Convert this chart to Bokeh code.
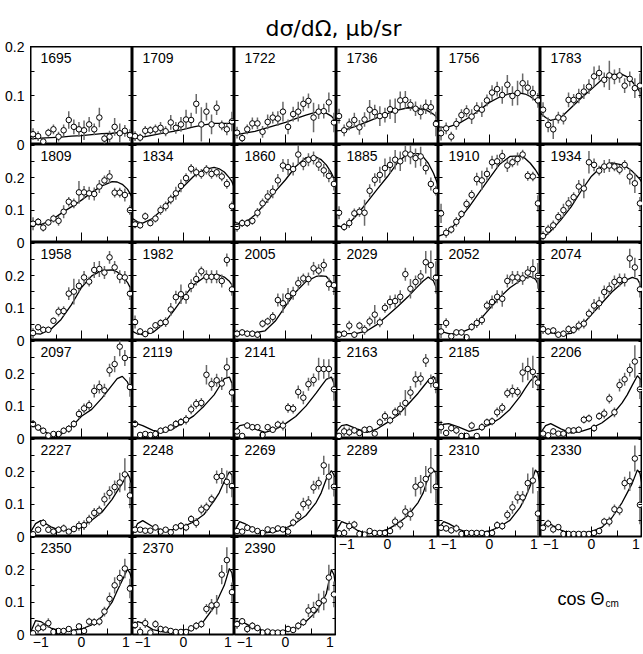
from bokeh.plotting import figure
from bokeh.models import Range1d, FixedTicker, LinearAxis, Label, ColumnDataSource
from bokeh.layouts import row, column
from bokeh.embed import file_html
from bokeh.resources import INLINE
from bokeh.core.properties import value

# ---------------- data ----------------
COS_BINS = [-0.95, -0.85, -0.75, -0.65, -0.55, -0.45, -0.35, -0.25, -0.15, -0.05,
            0.05, 0.15, 0.25, 0.35, 0.45, 0.55, 0.65, 0.75, 0.85, 0.95]
CURVE_X = [-1.0, -0.9, -0.8, -0.6, -0.4, -0.2, 0.0, 0.2, 0.4, 0.6, 0.7, 0.8, 0.9, 0.95, 1.0]

ENERGIES = ["1695", "1709", "1722", "1736", "1756", "1783",
            "1809", "1834", "1860", "1885", "1910", "1934",
            "1958", "1982", "2005", "2029", "2052", "2074",
            "2097", "2119", "2141", "2163", "2185", "2206",
            "2227", "2248", "2269", "2289", "2310", "2330",
            "2350", "2370", "2390"]

Y_1695 = [0.021, 0.017, 0.006, 0.024, 0.031, 0.016, 0.029, 0.050, 0.036, 0.031, 0.029, 0.041, 0.031, 0.055, 0.012, 0.016, 0.036, 0.023, 0.028, 0.019]
E_1695 = [0.012, 0.010, 0.005, 0.008, 0.010, 0.010, 0.012, 0.018, 0.015, 0.015, 0.020, 0.015, 0.012, 0.020, 0.010, 0.012, 0.018, 0.020, 0.012, 0.012]
F_1695 = [0.012, 0.012, 0.013, 0.014, 0.015, 0.017, 0.018, 0.020, 0.022, 0.023, 0.024, 0.024, 0.024, 0.024, 0.024]

Y_1709 = [0.017, 0.014, 0.028, 0.029, 0.031, 0.034, 0.027, 0.045, 0.034, 0.041, 0.051, 0.050, 0.083, 0.041, 0.067, 0.041, 0.075, 0.039, 0.031, 0.047]
E_1709 = [0.010, 0.008, 0.010, 0.008, 0.010, 0.012, 0.010, 0.015, 0.012, 0.015, 0.020, 0.015, 0.020, 0.035, 0.018, 0.020, 0.015, 0.010, 0.012, 0.020]
F_1709 = [0.012, 0.013, 0.015, 0.019, 0.023, 0.027, 0.031, 0.036, 0.040, 0.043, 0.043, 0.043, 0.043, 0.042, 0.042]

Y_1722 = [0.024, 0.013, 0.031, 0.043, 0.043, 0.026, 0.046, 0.055, 0.053, 0.067, 0.036, 0.062, 0.067, 0.083, 0.089, 0.055, 0.067, 0.068, 0.086, 0.045]
E_1722 = [0.012, 0.008, 0.010, 0.012, 0.012, 0.012, 0.015, 0.012, 0.015, 0.020, 0.015, 0.015, 0.020, 0.015, 0.015, 0.030, 0.015, 0.015, 0.020, 0.020]
F_1722 = [0.020, 0.021, 0.023, 0.027, 0.033, 0.039, 0.045, 0.053, 0.060, 0.066, 0.066, 0.064, 0.058, 0.052, 0.045]

Y_1736 = [0.058, 0.029, 0.041, 0.050, 0.035, 0.051, 0.071, 0.066, 0.058, 0.060, 0.072, 0.069, 0.090, 0.091, 0.081, 0.073, 0.066, 0.077, 0.076, 0.042]
E_1736 = [0.015, 0.012, 0.012, 0.015, 0.015, 0.015, 0.020, 0.015, 0.020, 0.015, 0.020, 0.025, 0.018, 0.018, 0.012, 0.015, 0.015, 0.015, 0.015, 0.025]
F_1736 = [0.028, 0.029, 0.031, 0.038, 0.046, 0.055, 0.063, 0.070, 0.075, 0.074, 0.072, 0.068, 0.062, 0.057, 0.050]

Y_1756 = [0.023, 0.033, 0.016, 0.042, 0.060, 0.068, 0.057, 0.074, 0.071, 0.090, 0.106, 0.113, 0.101, 0.122, 0.099, 0.105, 0.125, 0.116, 0.105, 0.090]
E_1756 = [0.015, 0.012, 0.010, 0.012, 0.012, 0.012, 0.015, 0.012, 0.015, 0.012, 0.015, 0.015, 0.018, 0.020, 0.020, 0.025, 0.020, 0.015, 0.015, 0.015]
F_1756 = [0.036, 0.035, 0.036, 0.043, 0.055, 0.070, 0.086, 0.097, 0.104, 0.105, 0.103, 0.098, 0.090, 0.083, 0.071]

Y_1783 = [0.071, 0.040, 0.031, 0.055, 0.053, 0.091, 0.091, 0.099, 0.108, 0.118, 0.139, 0.146, 0.132, 0.141, 0.138, 0.141, 0.120, 0.134, 0.115, 0.120]
E_1783 = [0.015, 0.015, 0.020, 0.012, 0.012, 0.015, 0.012, 0.015, 0.015, 0.015, 0.020, 0.015, 0.015, 0.030, 0.015, 0.015, 0.015, 0.015, 0.020, 0.025]
F_1783 = [0.064, 0.055, 0.049, 0.055, 0.075, 0.095, 0.113, 0.132, 0.143, 0.143, 0.138, 0.128, 0.115, 0.107, 0.098]

Y_1809 = [0.058, 0.064, 0.046, 0.062, 0.074, 0.067, 0.095, 0.126, 0.121, 0.155, 0.155, 0.152, 0.150, 0.173, 0.192, 0.204, 0.154, 0.154, 0.147, 0.100]
E_1809 = [0.020, 0.012, 0.012, 0.010, 0.012, 0.015, 0.020, 0.015, 0.015, 0.035, 0.020, 0.020, 0.020, 0.020, 0.015, 0.020, 0.015, 0.015, 0.020, 0.015]
F_1809 = [0.063, 0.057, 0.055, 0.068, 0.090, 0.110, 0.131, 0.155, 0.175, 0.188, 0.187, 0.180, 0.165, 0.152, 0.136]

Y_1834 = [0.056, 0.053, 0.081, 0.060, 0.074, 0.100, 0.112, 0.133, 0.152, 0.175, 0.199, 0.228, 0.217, 0.212, 0.225, 0.212, 0.217, 0.204, 0.181, 0.112]
E_1834 = [0.012, 0.010, 0.012, 0.010, 0.012, 0.015, 0.015, 0.015, 0.020, 0.020, 0.015, 0.015, 0.015, 0.015, 0.015, 0.015, 0.015, 0.015, 0.015, 0.015]
F_1834 = [0.074, 0.064, 0.060, 0.075, 0.105, 0.140, 0.173, 0.205, 0.225, 0.232, 0.228, 0.218, 0.200, 0.188, 0.168]

Y_1860 = [0.048, 0.060, 0.060, 0.067, 0.092, 0.121, 0.142, 0.157, 0.192, 0.238, 0.233, 0.227, 0.272, 0.243, 0.256, 0.261, 0.241, 0.223, 0.206, 0.181]
E_1860 = [0.015, 0.012, 0.012, 0.012, 0.015, 0.015, 0.020, 0.020, 0.020, 0.020, 0.025, 0.020, 0.030, 0.020, 0.020, 0.020, 0.020, 0.020, 0.020, 0.020]
F_1860 = [0.064, 0.058, 0.060, 0.085, 0.120, 0.158, 0.194, 0.235, 0.262, 0.264, 0.256, 0.240, 0.215, 0.198, 0.173]

Y_1885 = [0.092, 0.048, 0.060, 0.090, 0.095, 0.092, 0.160, 0.194, 0.209, 0.230, 0.240, 0.256, 0.251, 0.275, 0.272, 0.261, 0.266, 0.230, 0.181, 0.160]
E_1885 = [0.020, 0.012, 0.015, 0.015, 0.015, 0.040, 0.020, 0.020, 0.025, 0.030, 0.025, 0.030, 0.030, 0.025, 0.030, 0.030, 0.030, 0.020, 0.020, 0.015]
F_1885 = [0.053, 0.048, 0.052, 0.085, 0.125, 0.165, 0.204, 0.248, 0.275, 0.275, 0.265, 0.245, 0.215, 0.195, 0.173]

Y_1910 = [0.090, 0.030, 0.040, 0.064, 0.088, 0.119, 0.147, 0.196, 0.192, 0.212, 0.248, 0.251, 0.267, 0.238, 0.248, 0.258, 0.272, 0.206, 0.204, 0.121]
E_1910 = [0.030, 0.015, 0.012, 0.015, 0.012, 0.015, 0.015, 0.020, 0.030, 0.020, 0.020, 0.020, 0.020, 0.020, 0.015, 0.020, 0.015, 0.015, 0.015, 0.025]
F_1910 = [0.020, 0.025, 0.035, 0.070, 0.110, 0.155, 0.199, 0.242, 0.266, 0.268, 0.260, 0.245, 0.225, 0.212, 0.200]

Y_1934 = [0.020, 0.040, 0.053, 0.079, 0.100, 0.121, 0.140, 0.173, 0.167, 0.248, 0.240, 0.222, 0.235, 0.238, 0.235, 0.225, 0.240, 0.204, 0.183, 0.121]
E_1934 = [0.015, 0.015, 0.015, 0.015, 0.020, 0.020, 0.015, 0.020, 0.030, 0.035, 0.020, 0.015, 0.020, 0.020, 0.015, 0.015, 0.015, 0.025, 0.030, 0.020]
F_1934 = [0.015, 0.022, 0.035, 0.070, 0.110, 0.160, 0.205, 0.235, 0.246, 0.240, 0.232, 0.220, 0.204, 0.195, 0.183]

Y_1958 = [0.023, 0.041, 0.033, 0.033, 0.061, 0.089, 0.091, 0.145, 0.151, 0.169, 0.195, 0.182, 0.218, 0.221, 0.210, 0.257, 0.226, 0.197, 0.195, 0.145]
E_1958 = [0.015, 0.010, 0.010, 0.010, 0.010, 0.015, 0.015, 0.020, 0.040, 0.020, 0.020, 0.015, 0.025, 0.025, 0.020, 0.020, 0.020, 0.020, 0.020, 0.020]
F_1958 = [0.026, 0.021, 0.020, 0.035, 0.065, 0.110, 0.164, 0.200, 0.217, 0.218, 0.212, 0.200, 0.180, 0.165, 0.143]

Y_1982 = [0.057, 0.028, 0.020, 0.030, 0.047, 0.054, 0.057, 0.096, 0.134, 0.143, 0.134, 0.169, 0.190, 0.214, 0.197, 0.197, 0.197, 0.184, 0.249, 0.158]
E_1982 = [0.020, 0.010, 0.010, 0.010, 0.010, 0.012, 0.015, 0.020, 0.020, 0.030, 0.020, 0.020, 0.020, 0.015, 0.020, 0.020, 0.020, 0.020, 0.020, 0.020]
F_1982 = [0.028, 0.020, 0.018, 0.025, 0.050, 0.090, 0.134, 0.172, 0.195, 0.203, 0.202, 0.196, 0.183, 0.172, 0.153]

Y_2005 = [0.021, 0.025, 0.021, 0.021, 0.018, 0.052, 0.059, 0.073, 0.125, 0.115, 0.137, 0.146, 0.177, 0.192, 0.190, 0.223, 0.216, 0.233, 0.174, 0.171]
E_2005 = [0.012, 0.010, 0.010, 0.010, 0.012, 0.012, 0.012, 0.015, 0.020, 0.030, 0.025, 0.020, 0.020, 0.015, 0.020, 0.020, 0.020, 0.020, 0.020, 0.030]
F_2005 = [0.025, 0.025, 0.025, 0.024, 0.030, 0.060, 0.106, 0.150, 0.182, 0.198, 0.200, 0.198, 0.180, 0.165, 0.143]

Y_2029 = [0.018, 0.021, 0.046, 0.018, 0.046, 0.033, 0.059, 0.080, 0.056, 0.101, 0.119, 0.122, 0.135, 0.205, 0.160, 0.181, 0.198, 0.242, 0.233, 0.195]
E_2029 = [0.012, 0.010, 0.015, 0.010, 0.012, 0.015, 0.015, 0.030, 0.015, 0.015, 0.020, 0.020, 0.020, 0.020, 0.030, 0.020, 0.020, 0.035, 0.045, 0.050]
F_2029 = [0.028, 0.024, 0.021, 0.022, 0.030, 0.050, 0.077, 0.105, 0.135, 0.168, 0.184, 0.196, 0.185, 0.165, 0.130]

Y_2052 = [0.028, 0.054, 0.013, 0.025, 0.025, 0.010, 0.042, 0.054, 0.063, 0.108, 0.119, 0.135, 0.129, 0.184, 0.195, 0.195, 0.192, 0.210, 0.221, 0.200]
E_2052 = [0.020, 0.015, 0.010, 0.010, 0.010, 0.010, 0.012, 0.015, 0.015, 0.015, 0.020, 0.020, 0.025, 0.020, 0.020, 0.020, 0.020, 0.020, 0.030, 0.040]
F_2052 = [0.033, 0.026, 0.021, 0.022, 0.035, 0.062, 0.098, 0.133, 0.163, 0.185, 0.193, 0.198, 0.190, 0.175, 0.132]

Y_2074 = [0.035, 0.028, 0.031, 0.018, 0.021, 0.035, 0.033, 0.046, 0.052, 0.083, 0.108, 0.115, 0.150, 0.160, 0.181, 0.187, 0.187, 0.254, 0.226, 0.158]
E_2074 = [0.015, 0.010, 0.010, 0.010, 0.010, 0.012, 0.012, 0.015, 0.015, 0.015, 0.020, 0.020, 0.020, 0.020, 0.020, 0.020, 0.020, 0.030, 0.030, 0.025]
F_2074 = [0.039, 0.030, 0.024, 0.018, 0.022, 0.045, 0.080, 0.115, 0.150, 0.178, 0.188, 0.195, 0.190, 0.175, 0.132]

Y_2097 = [0.045, 0.034, 0.024, 0.009, 0.014, 0.014, 0.024, 0.030, 0.045, 0.076, 0.093, 0.103, 0.147, 0.159, 0.149, 0.211, 0.230, 0.284, 0.249, 0.159]
E_2097 = [0.012, 0.010, 0.010, 0.008, 0.008, 0.008, 0.010, 0.012, 0.012, 0.015, 0.015, 0.015, 0.020, 0.020, 0.020, 0.020, 0.025, 0.030, 0.025, 0.030]
F_2097 = [0.048, 0.035, 0.025, 0.013, 0.013, 0.035, 0.069, 0.090, 0.125, 0.165, 0.185, 0.192, 0.175, 0.155, 0.140]

Y_2119 = [0.045, 0.011, 0.014, 0.011, 0.014, 0.024, 0.027, 0.034, 0.045, 0.051, 0.058, 0.090, 0.107, 0.110, 0.197, 0.168, 0.180, 0.170, 0.220, 0.142]
E_2119 = [0.012, 0.008, 0.008, 0.008, 0.008, 0.010, 0.010, 0.010, 0.012, 0.012, 0.015, 0.015, 0.015, 0.015, 0.030, 0.020, 0.020, 0.020, 0.030, 0.030]
F_2119 = [0.040, 0.045, 0.040, 0.025, 0.020, 0.030, 0.050, 0.070, 0.100, 0.135, 0.160, 0.185, 0.190, 0.170, 0.140]

Y_2141 = [0.022, 0.008, 0.040, 0.035, 0.035, 0.011, 0.035, 0.027, 0.043, 0.040, 0.095, 0.092, 0.144, 0.126, 0.168, 0.181, 0.215, 0.215, 0.215, 0.152]
E_2141 = [0.010, 0.008, 0.010, 0.010, 0.010, 0.008, 0.010, 0.010, 0.012, 0.015, 0.015, 0.015, 0.020, 0.020, 0.020, 0.020, 0.035, 0.030, 0.030, 0.035]
F_2141 = [0.022, 0.040, 0.043, 0.030, 0.019, 0.028, 0.046, 0.068, 0.100, 0.140, 0.162, 0.183, 0.190, 0.170, 0.126]

Y_2163 = [0.008, 0.022, 0.019, 0.025, 0.017, 0.027, 0.029, 0.015, 0.050, 0.069, 0.056, 0.081, 0.092, 0.110, 0.142, 0.183, 0.185, 0.241, 0.178, 0.165]
E_2163 = [0.010, 0.015, 0.015, 0.010, 0.008, 0.010, 0.010, 0.010, 0.012, 0.015, 0.012, 0.015, 0.020, 0.040, 0.020, 0.025, 0.020, 0.020, 0.020, 0.025]
F_2163 = [0.022, 0.040, 0.043, 0.030, 0.019, 0.030, 0.050, 0.072, 0.105, 0.140, 0.160, 0.180, 0.192, 0.180, 0.152]

Y_2185 = [0.035, 0.017, 0.032, 0.025, 0.008, 0.008, 0.040, 0.008, 0.035, 0.050, 0.053, 0.081, 0.095, 0.140, 0.147, 0.144, 0.204, 0.215, 0.206, 0.173]
E_2185 = [0.020, 0.010, 0.010, 0.012, 0.008, 0.008, 0.012, 0.008, 0.012, 0.012, 0.012, 0.015, 0.015, 0.015, 0.020, 0.015, 0.030, 0.035, 0.050, 0.025]
F_2185 = [0.032, 0.044, 0.046, 0.035, 0.022, 0.030, 0.043, 0.062, 0.090, 0.130, 0.155, 0.178, 0.194, 0.185, 0.147]

Y_2206 = [0.015, 0.010, 0.022, 0.015, 0.015, 0.025, 0.025, 0.027, 0.058, 0.062, 0.032, 0.069, 0.077, 0.123, 0.081, 0.165, 0.183, 0.212, 0.238, 0.152]
E_2206 = [0.010, 0.008, 0.010, 0.008, 0.008, 0.010, 0.010, 0.010, 0.012, 0.012, 0.012, 0.012, 0.015, 0.015, 0.015, 0.020, 0.020, 0.020, 0.050, 0.030]
F_2206 = [0.017, 0.040, 0.046, 0.030, 0.017, 0.022, 0.032, 0.048, 0.072, 0.110, 0.135, 0.165, 0.194, 0.185, 0.152]

Y_2227 = [0.007, 0.021, 0.042, 0.021, 0.015, 0.021, 0.025, 0.015, 0.023, 0.033, 0.035, 0.052, 0.073, 0.080, 0.115, 0.135, 0.153, 0.167, 0.192, 0.127]
E_2227 = [0.010, 0.010, 0.012, 0.010, 0.008, 0.010, 0.012, 0.008, 0.010, 0.015, 0.015, 0.015, 0.015, 0.015, 0.020, 0.020, 0.020, 0.030, 0.050, 0.040]
F_2227 = [0.013, 0.040, 0.049, 0.030, 0.018, 0.022, 0.033, 0.050, 0.075, 0.115, 0.140, 0.164, 0.195, 0.180, 0.127]

Y_2248 = [0.021, 0.021, 0.018, 0.018, 0.028, 0.015, 0.021, 0.013, 0.028, 0.033, 0.028, 0.054, 0.042, 0.083, 0.090, 0.115, 0.184, 0.187, 0.169, 0.156]
E_2248 = [0.010, 0.008, 0.008, 0.008, 0.010, 0.010, 0.008, 0.008, 0.010, 0.012, 0.012, 0.012, 0.015, 0.015, 0.015, 0.015, 0.020, 0.025, 0.035, 0.035]
F_2248 = [0.007, 0.040, 0.049, 0.030, 0.018, 0.022, 0.031, 0.045, 0.068, 0.110, 0.135, 0.170, 0.200, 0.190, 0.158]

Y_2269 = [0.017, 0.015, 0.027, 0.022, 0.017, 0.011, 0.022, 0.019, 0.025, 0.022, 0.015, 0.043, 0.064, 0.100, 0.105, 0.152, 0.165, 0.220, 0.185, 0.154]
E_2269 = [0.010, 0.010, 0.010, 0.010, 0.008, 0.008, 0.008, 0.008, 0.008, 0.010, 0.015, 0.012, 0.015, 0.020, 0.020, 0.020, 0.020, 0.030, 0.040, 0.030]
F_2269 = [0.017, 0.046, 0.040, 0.020, 0.011, 0.015, 0.025, 0.042, 0.065, 0.105, 0.135, 0.178, 0.204, 0.190, 0.152]

Y_2289 = [0.010, 0.011, 0.032, 0.037, 0.008, 0.006, 0.017, 0.011, 0.011, 0.011, 0.017, 0.046, 0.037, 0.077, 0.069, 0.154, 0.160, 0.178, 0.204, 0.154]
E_2289 = [0.010, 0.012, 0.015, 0.012, 0.008, 0.008, 0.008, 0.008, 0.008, 0.008, 0.010, 0.015, 0.015, 0.020, 0.020, 0.030, 0.030, 0.040, 0.070, 0.050]
F_2289 = [0.017, 0.046, 0.040, 0.020, 0.008, 0.012, 0.022, 0.040, 0.065, 0.105, 0.135, 0.183, 0.206, 0.195, 0.152]

Y_2310 = [0.027, 0.025, 0.019, 0.025, 0.008, 0.011, 0.011, 0.011, 0.011, 0.008, 0.011, 0.035, 0.032, 0.067, 0.090, 0.121, 0.121, 0.165, 0.173, 0.071]
E_2310 = [0.010, 0.010, 0.010, 0.012, 0.008, 0.008, 0.008, 0.008, 0.008, 0.008, 0.008, 0.012, 0.012, 0.015, 0.020, 0.020, 0.020, 0.030, 0.040, 0.070]
F_2310 = [0.025, 0.046, 0.040, 0.022, 0.011, 0.012, 0.017, 0.030, 0.050, 0.090, 0.120, 0.157, 0.206, 0.195, 0.152]

Y_2330 = [0.027, 0.040, 0.022, 0.029, 0.008, 0.008, 0.008, 0.008, 0.008, 0.008, 0.011, 0.017, 0.046, 0.046, 0.084, 0.081, 0.165, 0.171, 0.241, 0.098]
E_2330 = [0.010, 0.012, 0.012, 0.010, 0.008, 0.006, 0.006, 0.006, 0.006, 0.006, 0.008, 0.010, 0.012, 0.015, 0.015, 0.015, 0.020, 0.030, 0.040, 0.060]
F_2330 = [0.022, 0.043, 0.038, 0.020, 0.008, 0.010, 0.015, 0.028, 0.058, 0.105, 0.135, 0.165, 0.206, 0.195, 0.152]

Y_2350 = [0.004, 0.019, 0.022, 0.035, 0.008, 0.011, 0.011, 0.017, 0.006, 0.025, 0.011, 0.040, 0.038, 0.040, 0.071, 0.110, 0.152, 0.175, 0.204, 0.142]
E_2350 = [0.008, 0.015, 0.012, 0.015, 0.008, 0.008, 0.008, 0.008, 0.006, 0.010, 0.012, 0.012, 0.012, 0.012, 0.015, 0.020, 0.025, 0.025, 0.030, 0.030]
F_2350 = [0.006, 0.043, 0.040, 0.020, 0.011, 0.013, 0.017, 0.030, 0.055, 0.100, 0.135, 0.168, 0.202, 0.190, 0.163]

Y_2370 = [0.029, 0.008, 0.035, 0.006, 0.032, 0.017, 0.015, 0.011, 0.008, 0.008, 0.008, 0.019, 0.027, 0.032, 0.079, 0.090, 0.092, 0.185, 0.230, 0.131]
E_2370 = [0.012, 0.015, 0.015, 0.008, 0.012, 0.010, 0.010, 0.008, 0.008, 0.008, 0.008, 0.010, 0.012, 0.012, 0.015, 0.020, 0.030, 0.030, 0.040, 0.030]
F_2370 = [0.019, 0.040, 0.035, 0.015, 0.008, 0.007, 0.008, 0.020, 0.042, 0.085, 0.118, 0.152, 0.204, 0.190, 0.131]

Y_2390 = [0.032, 0.041, 0.017, 0.027, 0.020, 0.006, 0.009, 0.006, 0.006, 0.006, 0.017, 0.014, 0.027, 0.038, 0.074, 0.076, 0.097, 0.105, 0.176, 0.124]
E_2390 = [0.015, 0.010, 0.012, 0.012, 0.010, 0.008, 0.008, 0.006, 0.006, 0.008, 0.010, 0.010, 0.012, 0.012, 0.020, 0.025, 0.030, 0.030, 0.040, 0.040]
F_2390 = [0.027, 0.043, 0.035, 0.018, 0.011, 0.010, 0.011, 0.020, 0.040, 0.070, 0.095, 0.126, 0.201, 0.185, 0.131]

Y_TICKS_FIRST = [0.05, 0.1, 0.15]
Y_TICKS = [0.05, 0.1, 0.15, 0.2, 0.25, 0.3]
Y_LABEL_VALUES = [0.0, 0.1, 0.2]
Y_LABEL_TEXT = ["0", "0.1", "0.2"]
X_MAJOR = [-1, 0, 1]
X_MINOR = [-0.5, 0.5]
X_LABEL_TEXT = ["\u22121", "0", "1"]

TITLE = "d\u03c3/d\u03a9, \u03bcb/sr"
XTITLE = "cos \u0398"
XTITLE_SUB = "cm"

g = globals()
PANELS = [(e, g["Y_" + e], g["E_" + e], g["F_" + e]) for e in ENERGIES]

# ---------------- layout / style ----------------
FONT = "Liberation Sans"
FW, FH = 102, 98
TITLE_H, XLAB_H = 46, 19
STRIP_W = 29
Y_TOP_FIRST, Y_TOP = 0.2, 0.303
# where the -1 / 0 / 1 labels sit (the original nudges the end labels inwards)
X_LABEL_POS = [-0.8, 0.0, 0.87]


def plain_axis(ticker, **kw):
    ax = LinearAxis(ticker=ticker, **kw)
    ax.axis_line_color = None
    ax.major_tick_out = 0
    ax.minor_tick_out = 0
    ax.major_tick_in = 0
    ax.minor_tick_in = 0
    ax.major_tick_line_color = "black"
    ax.minor_tick_line_color = "black"
    return ax


def tick_axis(ticker, loc, tin, minor_in=0):
    ax = plain_axis(ticker, fixed_location=loc, major_label_standoff=0)
    ax.major_label_text_color = None
    ax.major_tick_in = tin
    ax.minor_tick_in = minor_in
    return ax


def make_panel(name, ys, es, fit, ymax, yticks, labelled):
    p = figure(frame_width=FW, frame_height=FH,
               x_range=Range1d(-1, 1), y_range=Range1d(0, ymax),
               x_axis_location=None, y_axis_location=None,
               toolbar_location=None, output_backend="svg",
               min_border_left=0, min_border_right=0, min_border_top=0,
               min_border_bottom=XLAB_H if labelled else 0)
    p.grid.grid_line_color = None
    p.outline_line_color = "black"
    p.outline_line_width = 2
    p.add_layout(tick_axis(FixedTicker(ticks=yticks), -1, 4), "left")
    p.add_layout(tick_axis(FixedTicker(ticks=yticks), 1, 4), "right")
    p.add_layout(tick_axis(FixedTicker(ticks=[0], minor_ticks=X_MINOR), 0, 10, 6), "below")
    if labelled:
        la = plain_axis(FixedTicker(ticks=X_LABEL_POS),
                        major_label_overrides=dict(zip(X_LABEL_POS, X_LABEL_TEXT)),
                        major_label_standoff=2, major_label_text_font=FONT,
                        major_label_text_font_size="14px", major_label_text_color="black")
        la.major_tick_line_color = None
        la.minor_tick_line_color = None
        p.add_layout(la, "below")

    src = ColumnDataSource(dict(x=COS_BINS, y=ys,
                                lo=[y - e for y, e in zip(ys, es)],
                                hi=[y + e for y, e in zip(ys, es)]))
    p.line(CURVE_X, fit, line_color="black", line_width=1.3)
    p.segment(x0="x", y0="lo", x1="x", y1="hi", source=src,
              line_color="#6a6a6a", line_width=1.5)
    p.scatter("x", "y", source=src, marker="circle", size=5.5,
              fill_color="white", line_color="black", line_width=1)
    p.text(x=[-1], y=[ymax], text=[name], x_offset=10, y_offset=6,
           text_align="left", text_baseline="top", text_color="black",
           text_font=value(FONT), text_font_size="14px")
    return p


figs = {}
for i, (name, ys, es, fit) in enumerate(PANELS):
    r, c = divmod(i, 6)
    ymax = Y_TOP_FIRST if r == 0 else Y_TOP
    yt = Y_TICKS_FIRST if r == 0 else Y_TICKS
    labelled = (r == 5) or (r == 4 and c >= 3)
    figs[(r, c)] = make_panel(name, ys, es, fit, ymax, yt, labelled)

# strip holding the y tick labels of the first column
ticks, overrides = [], {}
for r in range(6):
    top = Y_TOP_FIRST if r == 0 else Y_TOP
    for v, lab in zip(Y_LABEL_VALUES, Y_LABEL_TEXT):
        pos = round((5 - r) + v / top, 6)
        if pos not in overrides:
            ticks.append(pos)
            overrides[pos] = lab
strip = figure(frame_width=1, frame_height=6 * FH, x_range=Range1d(0, 1), y_range=Range1d(0, 6),
               x_axis_location=None, y_axis_location=None, toolbar_location=None,
               output_backend="svg", min_border_left=STRIP_W, min_border_right=0,
               min_border_top=TITLE_H, min_border_bottom=XLAB_H)
strip.grid.grid_line_color = None
strip.outline_line_color = None
ya = plain_axis(FixedTicker(ticks=ticks), major_label_overrides=overrides,
                major_label_standoff=5, major_label_text_font=FONT,
                major_label_text_font_size="14px", major_label_text_color="black")
ya.major_tick_line_color = None
strip.add_layout(ya, "left")

# title
title_fig = figure(width=6 * FW, height=TITLE_H, x_range=Range1d(0, 1), y_range=Range1d(0, TITLE_H),
                   x_axis_location=None, y_axis_location=None, toolbar_location=None,
                   output_backend="svg", min_border=0)
title_fig.grid.grid_line_color = None
title_fig.outline_line_color = None
title_fig.add_layout(Label(x=0.495, y=18, text=TITLE, text_align="center",
                           text_baseline="alphabetic", text_font="DejaVu Sans",
                           text_font_size="22px", text_color="black"))

# x title in the empty area
cos_h = FH
cos_fig = figure(width=3 * FW, height=cos_h, x_range=Range1d(0, 3 * FW), y_range=Range1d(0, cos_h),
                 x_axis_location=None, y_axis_location=None, toolbar_location=None,
                 output_backend="svg", min_border=0)
cos_fig.grid.grid_line_color = None
cos_fig.outline_line_color = None
cos_fig.add_layout(Label(x=221, y=55, text=XTITLE, text_align="left", text_baseline="alphabetic",
                         text_font=FONT, text_font_size="18px", text_color="black"))
cos_fig.add_layout(Label(x=269, y=50, text=XTITLE_SUB, text_align="left", text_baseline="alphabetic",
                         text_font=FONT, text_font_size="10px", text_color="black"))

cols = []
for c in range(6):
    nrows = 6 if c < 3 else 5
    cols.append(column([figs[(r, c)] for r in range(nrows)], spacing=0))
right_block = column(row(cols[3], cols[4], cols[5], spacing=0), cos_fig, spacing=0)
grid = row(cols[0], cols[1], cols[2], right_block, spacing=0)
main = column(title_fig, grid, spacing=0)
layout = row(strip, main, spacing=0)

open("out.html", "w").write(file_html(layout, INLINE))
